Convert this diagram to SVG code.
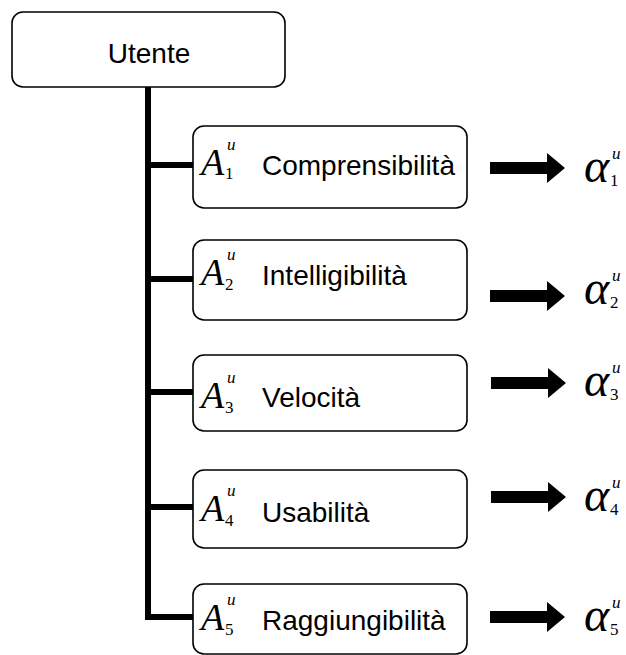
<svg xmlns="http://www.w3.org/2000/svg" width="626" height="655" viewBox="0 0 626 655">
  <style>
    .box { fill: #fff; stroke: #000; stroke-width: 1.6; }
    .lbl { font-family: "Liberation Sans", Arial, sans-serif; font-size: 28px; fill: #000; }
    .mA { font-family: "Liberation Serif", "Times New Roman", serif; font-style: italic; font-size: 38px; fill: #000; }
    .mAl { font-family: "Liberation Serif", "Times New Roman", serif; font-style: italic; font-size: 48px; fill: #000; }
    .sup { font-family: "Liberation Serif", "Times New Roman", serif; font-style: italic; font-size: 17px; fill: #000; }
    .sub { font-family: "Liberation Serif", "Times New Roman", serif; font-size: 17px; fill: #000; }
    .tree { fill: none; stroke: #000; stroke-width: 6; }
  </style>
  <defs>
    <polygon id="fat-arrow" points="0,-6 57,-6 57,-15 75,0 57,15 57,6 0,6" fill="#000"/>
  </defs>
  <rect width="626" height="655" fill="#fff"/>

  <!-- tree connectors -->
  <g id="connectors">
    <path class="tree" d="M148,87 V617 H193"/>
    <path class="tree" d="M148,165 H193"/>
    <path class="tree" d="M148,279 H193"/>
    <path class="tree" d="M148,392 H193"/>
    <path class="tree" d="M148,507 H193"/>
  </g>

  <g id="utente">
    <rect class="box" x="12" y="12" width="273" height="75" rx="11"/>
    <text class="lbl" x="149" y="63" text-anchor="middle">Utente</text>
  </g>

  <g id="a1">
    <rect class="box" x="193" y="126" width="274" height="82" rx="11"/>
    <text class="mA" x="201" y="175">A</text>
    <text class="sup" x="227" y="150">u</text>
    <text class="sub" x="225" y="179">1</text>
    <text class="lbl" x="262" y="175">Comprensibilità</text>
  </g>
  <g id="a2">
    <rect class="box" x="193" y="240" width="274" height="80" rx="11"/>
    <text class="mA" x="201" y="285">A</text>
    <text class="sup" x="227" y="260">u</text>
    <text class="sub" x="225" y="290">2</text>
    <text class="lbl" x="262" y="285">Intelligibilità</text>
  </g>
  <g id="a3">
    <rect class="box" x="193" y="355" width="274" height="76" rx="11"/>
    <text class="mA" x="201" y="408">A</text>
    <text class="sup" x="227" y="383">u</text>
    <text class="sub" x="225" y="413">3</text>
    <text class="lbl" x="262" y="407">Velocità</text>
  </g>
  <g id="a4">
    <rect class="box" x="193" y="470" width="274" height="78" rx="11"/>
    <text class="mA" x="201" y="521">A</text>
    <text class="sup" x="227" y="496">u</text>
    <text class="sub" x="225" y="526">4</text>
    <text class="lbl" x="262" y="522">Usabilità</text>
  </g>
  <g id="a5">
    <rect class="box" x="193" y="584" width="274" height="70" rx="11"/>
    <text class="mA" x="201" y="630">A</text>
    <text class="sup" x="227" y="605">u</text>
    <text class="sub" x="225" y="635">5</text>
    <text class="lbl" x="262" y="630">Raggiungibilità</text>
  </g>

  <!-- outputs -->
  <g id="out1">
    <use href="#fat-arrow" x="490" y="168"/>
    <text class="mAl" x="584" y="182">α</text>
    <text class="sup" x="612" y="159">u</text>
    <text class="sub" x="610" y="186">1</text>
  </g>
  <g id="out2">
    <use href="#fat-arrow" x="490" y="296"/>
    <text class="mAl" x="584" y="304">α</text>
    <text class="sup" x="612" y="281">u</text>
    <text class="sub" x="610" y="308">2</text>
  </g>
  <g id="out3">
    <use href="#fat-arrow" x="491" y="383"/>
    <text class="mAl" x="584" y="396">α</text>
    <text class="sup" x="612" y="373">u</text>
    <text class="sub" x="610" y="400">3</text>
  </g>
  <g id="out4">
    <use href="#fat-arrow" x="491" y="497"/>
    <text class="mAl" x="584" y="511">α</text>
    <text class="sup" x="612" y="488">u</text>
    <text class="sub" x="610" y="515">4</text>
  </g>
  <g id="out5">
    <use href="#fat-arrow" x="490" y="617"/>
    <text class="mAl" x="584" y="631">α</text>
    <text class="sup" x="612" y="608">u</text>
    <text class="sub" x="610" y="635">5</text>
  </g>
</svg>
